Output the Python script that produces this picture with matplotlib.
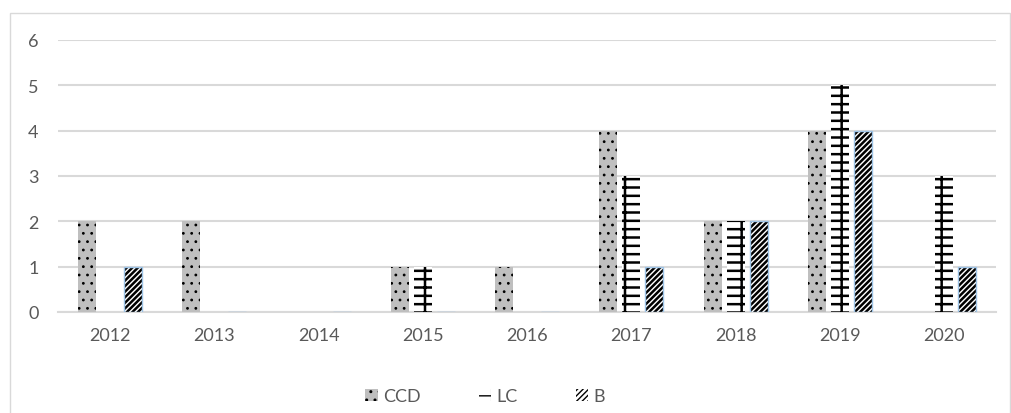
import numpy as np
import matplotlib
matplotlib.use('Agg')
import matplotlib.pyplot as plt
from matplotlib.patches import Rectangle, Patch

years = ['2012', '2013', '2014', '2015', '2016', '2017', '2018', '2019', '2020']
ccd = [2, 2, 0, 1, 1, 4, 2, 4, 0]
lc = [0, 0, 0, 1, 0, 3, 2, 5, 3]
b = [1, 0, 0, 0, 0, 1, 2, 4, 1]

plt.rcParams['font.family'] = ['Lato', 'DejaVu Sans']
text_col = '#595959'
grid_col = '#d9d9d9'

# hatch pattern and hatch line width for each series
styles = {
    'CCD': dict(color='#bfbfbf', hatch='..', hlw=0.8),
    'LC': dict(color='white', hatch='--|', hlw=1.8),
    'B': dict(color='white', hatch='//////', hlw=1.8),
}

fig = plt.figure(figsize=(10.11, 4.14), dpi=100)
ax = fig.add_axes([0.0574, 0.244, 0.928, 0.657])

x = np.arange(len(years))
w = 0.173
step = 0.22

handles = []
for offset, (name, vals) in zip([-step, 0, step], [('CCD', ccd), ('LC', lc), ('B', b)]):
    st = styles[name]
    with plt.rc_context({'hatch.linewidth': st['hlw']}):
        ax.bar(x + offset, vals, w, color=st['color'], edgecolor='black',
               hatch=st['hatch'], linewidth=0, zorder=3)
        handles.append(Patch(facecolor=st['color'], edgecolor='black',
                             hatch=st['hatch'], linewidth=0))
ax.bar(x + step, b, w, fill=False, edgecolor='#9dc3e6', linewidth=1, zorder=4)

ax.set_xlim(-0.5, len(years) - 0.5)
ax.set_ylim(0, 6)
ax.set_yticks(range(7))
ax.set_xticks(x)
ax.set_xticklabels(years)
ax.yaxis.grid(True, color=grid_col, linewidth=1.5, zorder=0)
ax.set_axisbelow(True)
for s in ['left', 'right', 'top']:
    ax.spines[s].set_visible(False)
ax.spines['bottom'].set_color(grid_col)
ax.spines['bottom'].set_linewidth(1.5)
ax.tick_params(axis='both', length=0, labelsize=13, colors=text_col)
ax.tick_params(axis='y', pad=14)
ax.tick_params(axis='x', pad=11)

fig.legend(handles, ['CCD', 'LC', 'B'], loc='center', bbox_to_anchor=(0.48, 0.04),
           ncol=3, frameon=False, fontsize=13, labelcolor=text_col,
           handlelength=0.7, handleheight=0.7, handletextpad=0.3, columnspacing=3.2)

fig.patches.append(Rectangle((10 / 1011, -0.05), 1000 / 1011, 1.05 - 14 / 414,
                             transform=fig.transFigure, fill=False,
                             edgecolor=grid_col, linewidth=1))

fig.savefig('out.png', dpi=100)
